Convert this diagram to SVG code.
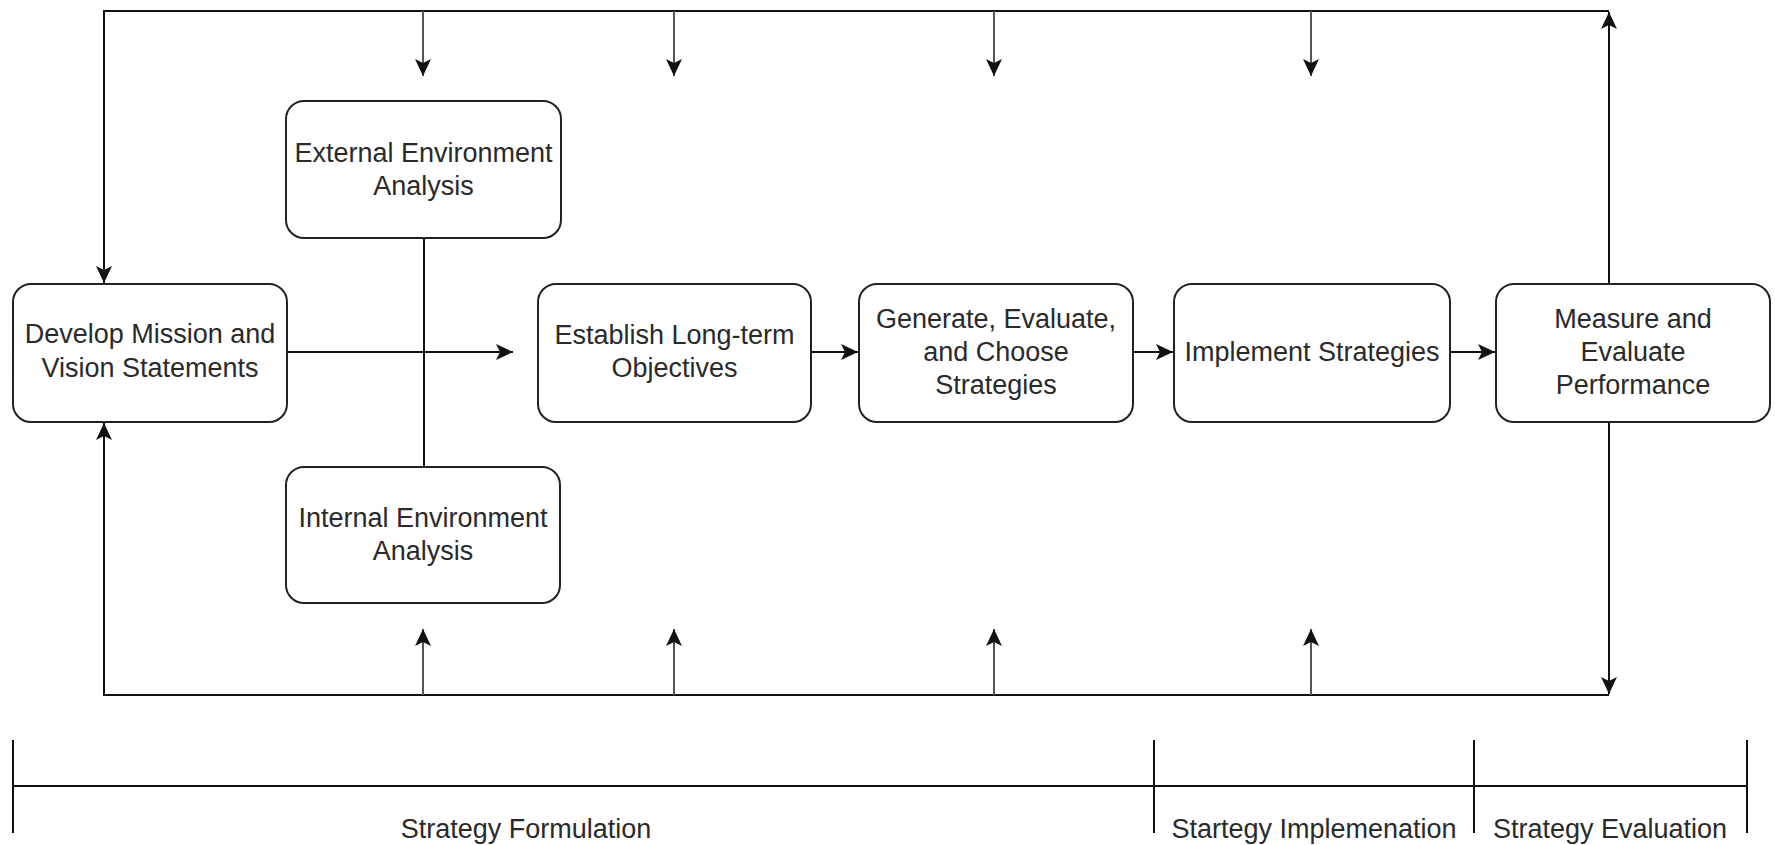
<svg xmlns="http://www.w3.org/2000/svg" width="1775" height="845" viewBox="0 0 1775 845">
<style>
.box{fill:#fff;stroke:#222;stroke-width:2}
.t{font-family:"Liberation Sans",Arial,sans-serif;font-size:27px;fill:#2a2a2a;text-anchor:middle}
.ln{fill:none;stroke:#111;stroke-width:2}
.stub{fill:none;stroke:#555;stroke-width:2}
</style>
<defs>
<marker id="ah" markerUnits="userSpaceOnUse" markerWidth="18" markerHeight="16" refX="17" refY="8" orient="auto" viewBox="0 0 18 16">
<path d="M0,0 L17,8 L0,16 L4,8 Z" fill="#111"/>
</marker>
</defs>
<rect width="1775" height="845" fill="#fff"/>
<g id="connectors">
<path class="ln" d="M1609,11 L104,11 L104,283" marker-end="url(#ah)"/>
<path class="ln" d="M1609,283 L1609,12" marker-end="url(#ah)"/>
<path class="ln" d="M1609,422 L1609,694" marker-end="url(#ah)"/>
<path class="ln" d="M1609,695 L104,695 L104,423" marker-end="url(#ah)"/>
<path class="stub" d="M423,11 L423,76" marker-end="url(#ah)"/>
<path class="stub" d="M674,11 L674,76" marker-end="url(#ah)"/>
<path class="stub" d="M994,11 L994,76" marker-end="url(#ah)"/>
<path class="stub" d="M1311,11 L1311,76" marker-end="url(#ah)"/>
<path class="stub" d="M423,695 L423,629" marker-end="url(#ah)"/>
<path class="stub" d="M674,695 L674,629" marker-end="url(#ah)"/>
<path class="stub" d="M994,695 L994,629" marker-end="url(#ah)"/>
<path class="stub" d="M1311,695 L1311,629" marker-end="url(#ah)"/>
<path class="ln" d="M424,238 L424,467"/>
<path class="ln" d="M287,352 L513,352" marker-end="url(#ah)"/>
<path class="ln" d="M811,352 L858,352" marker-end="url(#ah)"/>
<path class="ln" d="M1133,352 L1173,352" marker-end="url(#ah)"/>
<path class="ln" d="M1450,352 L1495,352" marker-end="url(#ah)"/>
</g>
<g id="ext"><rect class="box" x="286" y="101" width="275" height="137" rx="18"/><text class="t" x="423.5" y="162">External Environment</text><text class="t" x="423.5" y="195">Analysis</text></g>
<g id="int"><rect class="box" x="286" y="467" width="274" height="136" rx="18"/><text class="t" x="423" y="527">Internal Environment</text><text class="t" x="423" y="560">Analysis</text></g>
<g id="develop"><rect class="box" x="13" y="284" width="274" height="138" rx="18"/><text class="t" x="150" y="343">Develop Mission and</text><text class="t" x="150" y="377">Vision Statements</text></g>
<g id="establish"><rect class="box" x="538" y="284" width="273" height="138" rx="18"/><text class="t" x="674.5" y="344">Establish Long-term</text><text class="t" x="674.5" y="377">Objectives</text></g>
<g id="generate"><rect class="box" x="859" y="284" width="274" height="138" rx="18"/><text class="t" x="996" y="328">Generate, Evaluate,</text><text class="t" x="996" y="361">and Choose</text><text class="t" x="996" y="394">Strategies</text></g>
<g id="implement"><rect class="box" x="1174" y="284" width="276" height="138" rx="18"/><text class="t" x="1312" y="361">Implement Strategies</text></g>
<g id="measure"><rect class="box" x="1496" y="284" width="274" height="138" rx="18"/><text class="t" x="1633" y="328">Measure and</text><text class="t" x="1633" y="361">Evaluate</text><text class="t" x="1633" y="394">Performance</text></g>
<g id="timeline">
<path class="ln" d="M13,786 L1747,786 M13,740 L13,833 M1154,740 L1154,833 M1474,740 L1474,833 M1747,740 L1747,833"/>
<text class="t" x="526" y="838">Strategy Formulation</text>
<text class="t" x="1314" y="838">Startegy Implemenation</text>
<text class="t" x="1610" y="838">Strategy Evaluation</text>
</g>
</svg>
